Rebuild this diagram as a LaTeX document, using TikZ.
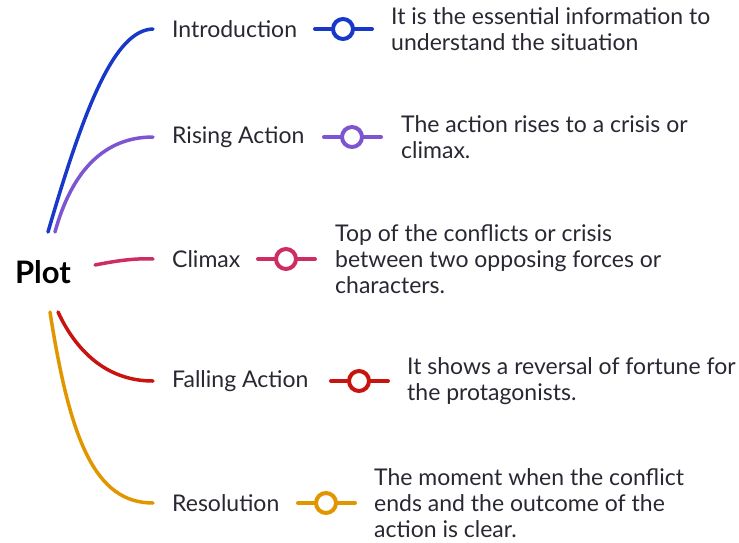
\documentclass[tikz,border=0pt]{standalone}
\usepackage{fontspec}
\setmainfont{Lato}
\usetikzlibrary{positioning,calc}

\definecolor{cintro}{RGB}{23,56,200}
\definecolor{crise}{RGB}{125,85,210}
\definecolor{cclimax}{RGB}{205,45,100}
\definecolor{cfall}{RGB}{200,20,15}
\definecolor{cresol}{RGB}{225,150,0}
\definecolor{ink}{RGB}{40,40,50}

\tikzset{
  root/.style={font=\fontsize{31}{35}\selectfont\bfseries, text=black, inner sep=0pt},
  topic/.style={anchor=west, font=\fontsize{23}{26}\selectfont, text=ink, inner sep=0pt},
  desc/.style={anchor=west, align=left, font=\fontsize{23}{26.3}\selectfont, text=ink, inner sep=0pt},
  dot/.style={circle, fill=white, line width=4pt, minimum size=20pt, inner sep=0pt},
  branch/.style={line width=3.5pt, line cap=round},
  stem/.style={line width=4pt, line cap=round}
}

\begin{document}
\begin{tikzpicture}[x=1pt,y=-1pt]
\useasboundingbox (0,0) rectangle (739,542);

% Root
\node[root] (plot) at (43,272) {Plot};

% Topics
\node[topic] (intro) at (172,29) {Introduction};
\node[topic] (rise) at (172,137) {Rising Action};
\node[topic] (climax) at (172,259) {Climax};
\node[topic] (fall) at (172,381) {Falling Action};
\node[topic] (resol) at (172,503) {Resolution};

% Dots
\node[dot, draw=cintro] (introdot) at (343,29) {};
\node[dot, draw=crise] (risedot) at (352,137) {};
\node[dot, draw=cclimax] (climaxdot) at (286,259) {};
\node[dot, draw=cfall] (falldot) at (359,381) {};
\node[dot, draw=cresol] (resoldot) at (326,503) {};

% Descriptions
\node[desc] (introtxt) at (391,29) {It is the essential information to\\understand the situation};
\node[desc] (risetxt) at (401,137) {The action rises to a crisis or\\climax.};
\node[desc] (climaxtxt) at (335,259) {Top of the conflicts or crisis\\between two opposing forces or\\characters.};
\node[desc] (falltxt) at (407,381) {It shows a reversal of fortune for\\the protagonists.};
\node[desc] (resoltxt) at (374,503) {The moment when the conflict\\ends and the outcome of the\\action is clear.};

% Branches from the root
\draw[branch, cintro] ($(plot.center)+(5,-40)$) .. controls (85,105) and (115,30) .. ($(intro.west)+(-19,0)$);
\draw[branch, crise] ($(plot.center)+(12,-40)$) .. controls (72,170) and (105,137) .. ($(rise.west)+(-19,0)$);
\draw[branch, cclimax] ($(plot.center)+(52,-7)$) .. controls (115,261) and (135,258) .. ($(climax.west)+(-19,0)$);
\draw[branch, cfall] ($(plot.center)+(15,40)$) .. controls (78,355) and (110,381) .. ($(fall.west)+(-19,0)$);
\draw[branch, cresol] ($(plot.center)+(7,40)$) .. controls (70,440) and (95,503) .. ($(resol.west)+(-19,0)$);

% Stems through the dots
\foreach \n/\c in {intro/cintro, rise/crise, climax/cclimax, fall/cfall, resol/cresol} {
  \draw[stem, \c] (\n dot.west) -- ++(-16,0);
  \draw[stem, \c] (\n dot.east) -- ++(17,0);
}

\end{tikzpicture}
\end{document}
